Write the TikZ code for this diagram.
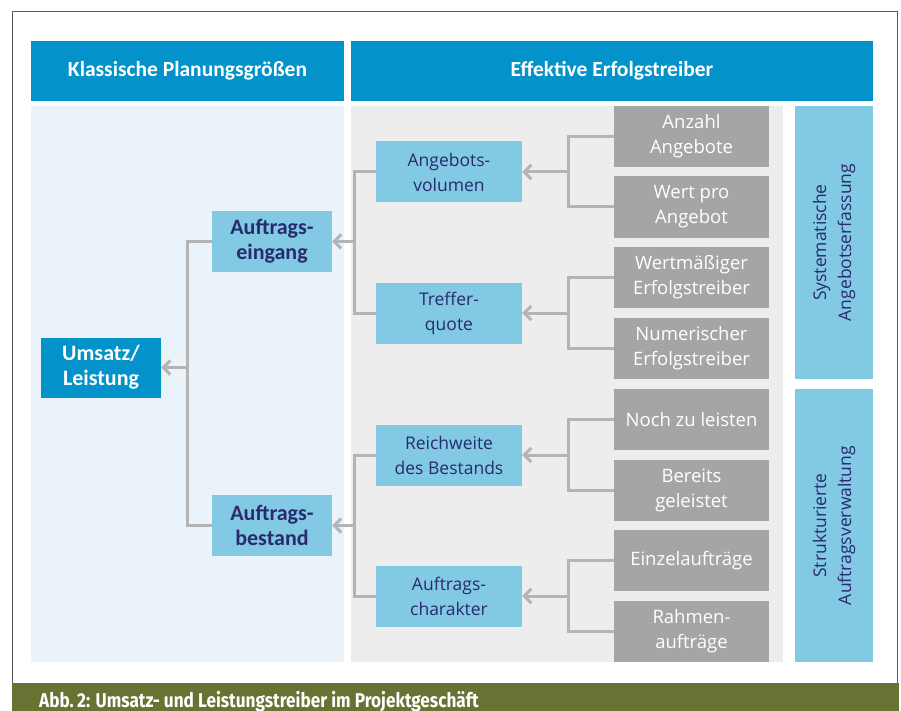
\documentclass[tikz,border=0pt]{standalone}
\usepackage{fontspec}
\usepackage{tikz}
\usetikzlibrary{arrows.meta}
\setmainfont{Open Sans}
\newfontfamily\headfont{Carlito}
\newfontfamily\capfont[FakeStretch=0.86]{Fira Sans}
\definecolor{headblue}{HTML}{0392C9}
\definecolor{paleblue}{HTML}{EBF3FA}
\definecolor{palegrey}{HTML}{EDEDED}
\definecolor{boxgrey}{HTML}{A5A5A5}
\definecolor{skyblue}{HTML}{82C9E3}
\definecolor{navy}{HTML}{2A2A6E}
\definecolor{linegrey}{HTML}{B4B4B4}
\definecolor{olive}{HTML}{677233}

\begin{document}
\begin{tikzpicture}[x=1pt,y=1pt,
  headbox/.style={fill=headblue,text=white,minimum width=#1,minimum height=60pt,inner sep=0pt,font=\headfont\bfseries\fontsize{21.5}{25}\selectfont},
  greybox/.style={fill=boxgrey,text=white,minimum width=155pt,minimum height=61pt,inner sep=0pt,align=center,font=\fontsize{18.5}{25}\selectfont},
  midbox/.style={fill=skyblue,text=navy,minimum width=146pt,minimum height=61pt,inner sep=0pt,align=center,font=\fontsize{17.5}{25}\selectfont},
  ordbox/.style={fill=skyblue,text=navy,minimum width=120pt,minimum height=61pt,inner sep=0pt,align=center,font=\headfont\bfseries\fontsize{22}{25}\selectfont},
  sidebar/.style={fill=skyblue,text=navy,minimum width=78pt,minimum height=#1,inner sep=0pt},
  conn/.style={draw=linegrey,line width=3pt},
  arr/.style={conn,-{Straight Barb[length=7pt,width=14pt]}}]
\useasboundingbox (0,0) rectangle (901,-711);
% frame and caption
\draw[gray!70!black,line width=1pt] (12,-683) -- (12,-12) -- (897,-12) -- (897,-683);
\fill[olive] (12,-683) rectangle (899,-711);
\node[anchor=base west,text=white,inner sep=0pt,font=\capfont\bfseries\fontsize{20}{22}\selectfont] (cap) at (39,-707) {Abb.\,2: Umsatz- und Leistungstreiber im Projektgeschäft};
% panels
\fill[paleblue] (31,-106) rectangle (344,-662);
\fill[palegrey] (351,-106) rectangle (783,-662);
\node[headbox=313pt] (hleft) at (187.5,-71) {Klassische Planungsgrößen};
\node[headbox=522pt] (hright) at (612,-71) {Effektive Erfolgstreiber};
% side bars
\node[sidebar=273pt] (sys) at (834,-242.5) {};
\node[rotate=90,align=center,text=navy,font=\fontsize{17.5}{25}\selectfont] at (sys.center) {Systematische\\Angebotserfassung};
\node[sidebar=273pt] (str) at (834,-525.5) {};
\node[rotate=90,align=center,text=navy,font=\fontsize{17.5}{25}\selectfont] at (str.center) {Strukturierte\\Auftragsverwaltung};
% grey boxes
\node[greybox] (anz) at (691.5,-136.5) {Anzahl\\Angebote};
\node[greybox] (wert) at (691.5,-207) {Wert pro\\Angebot};
\node[greybox] (wmass) at (691.5,-277.5) {Wertmäßiger\\Erfolgstreiber};
\node[greybox] (num) at (691.5,-348.5) {Numerischer\\Erfolgstreiber};
\node[greybox] (noch) at (691.5,-419.5) {Noch zu leisten};
\node[greybox] (bereits) at (691.5,-490) {Bereits\\geleistet};
\node[greybox] (einzel) at (691.5,-560.5) {Einzelaufträge};
\node[greybox] (rahmen) at (691.5,-631.5) {Rahmen-\\aufträge};
% middle boxes
\node[midbox] (angvol) at (449,-172) {Angebots-\\volumen};
\node[midbox] (treffer) at (449,-313) {Treffer-\\quote};
\node[midbox] (reich) at (449,-455) {Reichweite\\des Bestands};
\node[midbox] (acharak) at (449,-596) {Auftrags-\\charakter};
% left boxes
\node[ordbox] (aein) at (272,-241.5) {Auftrags-\\eingang};
\node[ordbox] (abest) at (272,-525.5) {Auftrags-\\bestand};
\node[ordbox,fill=headblue,text=white,minimum height=60pt] (umsatz) at (101,-367.5) {Umsatz/\\Leistung};
% connectors
\coordinate (j1) at (568,-172);
\coordinate (j2) at (568,-313);
\coordinate (j3) at (568,-455);
\coordinate (j4) at (568,-596);
\coordinate (k1) at (354,-241.5);
\coordinate (k2) at (354,-525.5);
\coordinate (m1) at (187,-367.5);
\draw[conn] (anz.west) -| (j1) |- (wert.west);
\draw[conn] (wmass.west) -| (j2) |- (num.west);
\draw[conn] (noch.west) -| (j3) |- (bereits.west);
\draw[conn] (einzel.west) -| (j4) |- (rahmen.west);
\draw[arr] (j1) -- (angvol.east);
\draw[arr] (j2) -- (treffer.east);
\draw[arr] (j3) -- (reich.east);
\draw[arr] (j4) -- (acharak.east);
\draw[conn] (angvol.west) -| (k1) |- (treffer.west);
\draw[conn] (reich.west) -| (k2) |- (acharak.west);
\draw[arr] (k1) -- (aein.east);
\draw[arr] (k2) -- (abest.east);
\draw[conn] (aein.west) -| (m1) |- (abest.west);
\draw[arr] (m1) -- (umsatz.east);
\end{tikzpicture}
\end{document}
